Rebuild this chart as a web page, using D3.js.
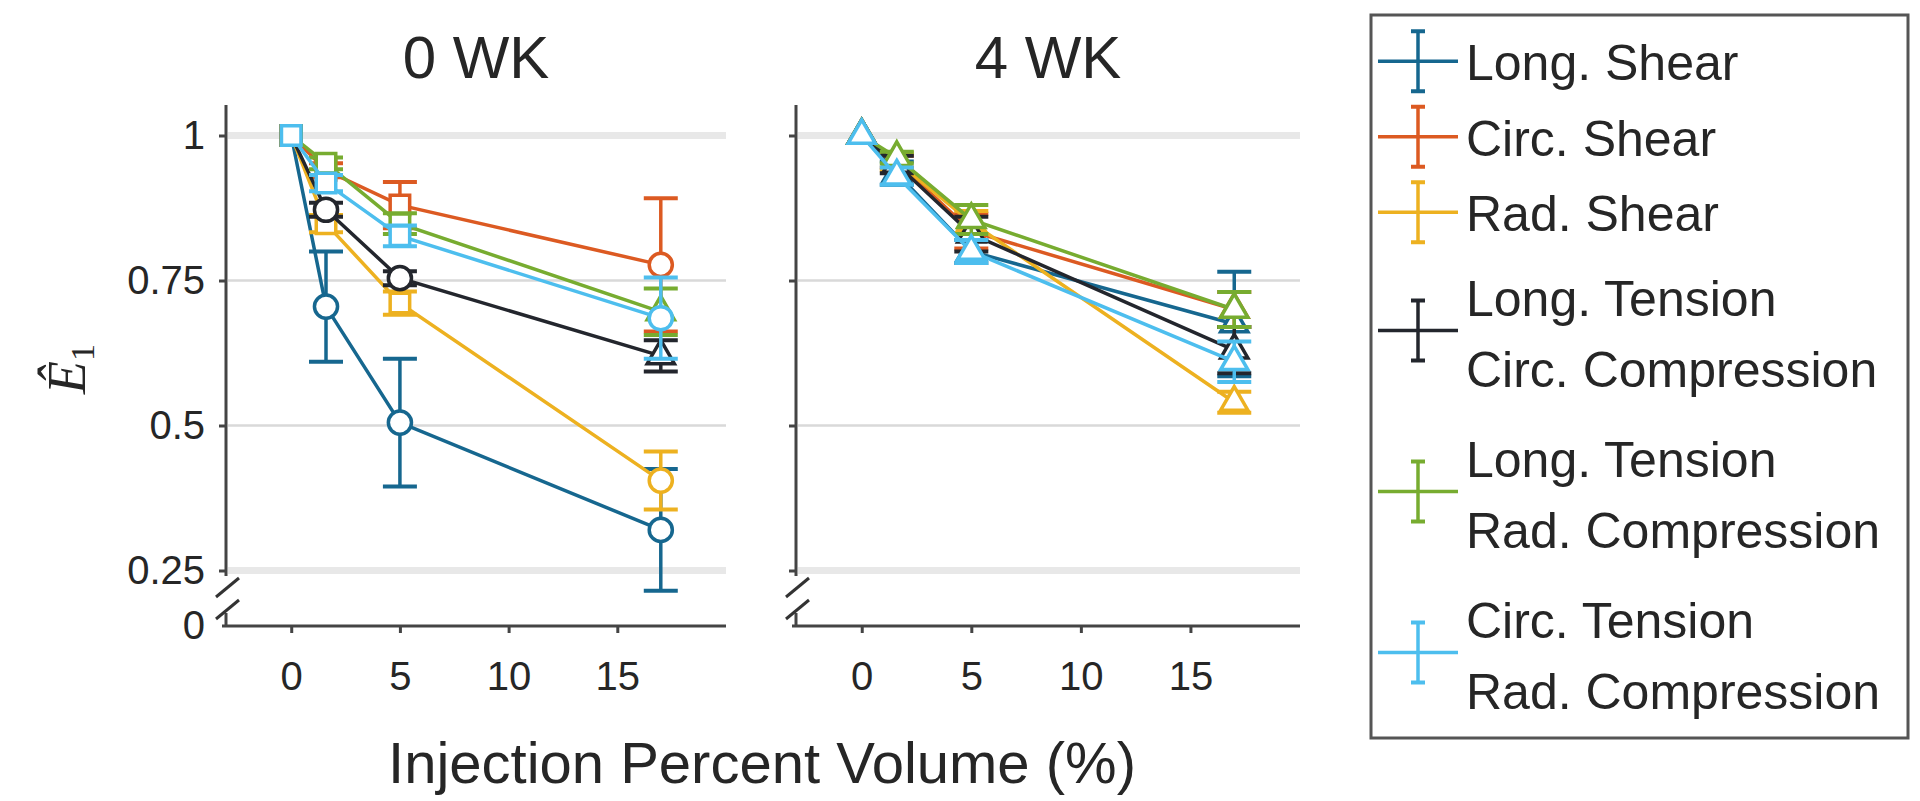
<!DOCTYPE html>
<html><head><meta charset="utf-8">
<script src="https://cdn.jsdelivr.net/npm/d3@7"></script>
<style>
body{margin:0;background:#fff;}
text{font-family:"Liberation Sans",Arial,Helvetica,sans-serif;fill:#262626;}
</style>
</head><body>
<svg id="chart" width="1920" height="801"></svg>
<script>
// ---------------- data ----------------
const xValues = [0, 1.6, 5, 17];
const xTicks = [0, 5, 10, 15];
const yTicks = [0.25, 0.5, 0.75, 1];
const yTickLabels = ["0.25", "0.5", "0.75", "1"];
const yBreakLabel = "0";
const panelTitles = ["0 WK", "4 WK"];
const xAxisTitle = "Injection Percent Volume (%)";
const seriesNames = [
  ["Long. Shear"],
  ["Circ. Shear"],
  ["Rad. Shear"],
  ["Long. Tension", "Circ. Compression"],
  ["Long. Tension", "Rad. Compression"],
  ["Circ. Tension", "Rad. Compression"]
];
const seriesColors = ["#16678f", "#dc5a22", "#edb120", "#23262d", "#77ac30", "#4dbeee"];

// 0 WK
const wk0Means = [
  [1, 0.705, 0.505, 0.320],
  [1, 0.940, 0.880, 0.777],
  [1, 0.848, 0.711, 0.405],
  [1, 0.872, 0.754, 0.620],
  [1, 0.952, 0.848, 0.696],
  [1, 0.918, 0.827, 0.685]
];
const wk0Errors = [
  [0, 0.095, 0.110, 0.105],
  [0, 0.012, 0.040, 0.115],
  [0, 0.015, 0.020, 0.050],
  [0, 0.012, 0.012, 0.027],
  [0, 0.010, 0.018, 0.040],
  [0, 0.014, 0.018, 0.070]
];
const wk0Markers = [
  ["square", "circle", "circle", "circle"],
  ["square", "square", "square", "circle"],
  ["square", "square", "square", "circle"],
  ["square", "circle", "circle", "triangle"],
  ["square", "square", "square", "triangle"],
  ["square", "square", "square", "circle"]
];

// 4 WK
const wk4Means = [
  [1, 0.935, 0.800, 0.675],
  [1, 0.955, 0.835, 0.700],
  [1, 0.955, 0.850, 0.540],
  [1, 0.950, 0.830, 0.630],
  [1, 0.962, 0.855, 0.700],
  [1, 0.930, 0.800, 0.610]
];
const wk4Errors = [
  [0, 0.020, 0.020, 0.090],
  [0, 0.010, 0.030, 0.030],
  [0, 0.015, 0.020, 0.018],
  [0, 0.015, 0.030, 0.040],
  [0, 0.010, 0.025, 0.030],
  [0, 0.015, 0.020, 0.035]
];
const wk4Markers = [
  ["triangle", "triangle", "triangle", "triangle"],
  ["triangle", "triangle", "triangle", "triangle"],
  ["triangle", "triangle", "triangle", "triangle"],
  ["triangle", "triangle", "triangle", "triangle"],
  ["triangle", "triangle", "triangle", "triangle"],
  ["triangle", "triangle", "triangle", "triangle"]
];

// ---------------- layout ----------------
const svg = d3.select("#chart");
const axisColor = "#444";
const yTop = 105, yBreakTop = 576, xAxisY = 626;
const y = d3.scaleLinear().domain([0.25, 1]).range([570.5, 135.5]);

const panels = [
  {x0: 226, x1: 726, title: panelTitles[0], means: wk0Means, errs: wk0Errors, markers: wk0Markers, labels: true},
  {x0: 796, x1: 1300, title: panelTitles[1], means: wk4Means, errs: wk4Errors, markers: wk4Markers, labels: false}
];

const symbolMap = {square: d3.symbolSquare, circle: d3.symbolCircle, triangle: d3.symbolTriangle};
const symbolSize = {square: 380, circle: 420, triangle: 320};

panels.forEach(p => {
  const x = d3.scaleLinear().domain([-3, 20]).range([p.x0, p.x1]);
  const g = svg.append("g");

  // gridlines
  g.selectAll(".grid").data(yTicks).join("line")
    .attr("x1", p.x0 + 2).attr("x2", p.x1)
    .attr("y1", d => y(d)).attr("y2", d => y(d))
    .attr("stroke", (d, i) => (i === 0 || i === yTicks.length - 1) ? "#e8e8e8" : "#d9d9d9")
    .attr("stroke-width", (d, i) => (i === 0 || i === yTicks.length - 1) ? 7 : 2.5);

  // title
  g.append("text").attr("x", (p.x0 + p.x1) / 2).attr("y", 78)
    .attr("text-anchor", "middle").style("font-size", "60px").text(p.title);

  // x axis
  const xAxis = d3.axisBottom(x).tickValues(xTicks).tickFormat(d3.format("d")).tickSize(7).tickPadding(29);
  const gx = g.append("g").attr("transform", `translate(0,${xAxisY})`).call(xAxis);
  gx.select(".domain").remove();
  gx.selectAll(".tick line").attr("stroke", axisColor).attr("stroke-width", 3);
  gx.selectAll(".tick text").style("font-size", "40px").style("font-family", "'Liberation Sans',Arial,sans-serif").attr("fill", "#262626");
  g.append("line").attr("x1", p.x0 - 4).attr("x2", p.x1).attr("y1", xAxisY).attr("y2", xAxisY)
    .attr("stroke", axisColor).attr("stroke-width", 3);

  // y axis (broken)
  const yAxis = d3.axisLeft(y).tickValues(yTicks).tickFormat((d, i) => p.labels ? yTickLabels[i] : "").tickSize(7).tickPadding(14);
  const gy = g.append("g").attr("transform", `translate(${p.x0},0)`).call(yAxis);
  gy.select(".domain").remove();
  gy.selectAll(".tick line").attr("stroke", axisColor).attr("stroke-width", 3);
  gy.selectAll(".tick text").style("font-size", "40px").style("font-family", "'Liberation Sans',Arial,sans-serif").attr("fill", "#262626");
  g.append("line").attr("x1", p.x0).attr("x2", p.x0).attr("y1", yTop).attr("y2", yBreakTop)
    .attr("stroke", axisColor).attr("stroke-width", 3);
  g.append("line").attr("x1", p.x0).attr("x2", p.x0).attr("y1", 613).attr("y2", xAxisY)
    .attr("stroke", axisColor).attr("stroke-width", 3);
  // break marks
  [[597, 578], [619, 600]].forEach(([ya, yb]) => {
    g.append("line").attr("x1", p.x0 - 10).attr("y1", ya).attr("x2", p.x0 + 13).attr("y2", yb)
      .attr("stroke", "#333").attr("stroke-width", 3);
  });
  if (p.labels) {
    g.append("text").attr("x", p.x0 - 21).attr("y", xAxisY).attr("dy", "0.32em")
      .attr("text-anchor", "end").style("font-size", "40px").text(yBreakLabel);
  }

  // series
  const line = d3.line().x((d, i) => x(xValues[i])).y(d => y(d));
  p.means.forEach((means, s) => {
    const col = seriesColors[s];
    const sg = g.append("g");
    sg.append("path").attr("d", line(means)).attr("fill", "none")
      .attr("stroke", col).attr("stroke-width", 3.5);
    means.forEach((m, i) => {
      const e = p.errs[s][i];
      if (e <= 0) return;
      const cx = x(xValues[i]);
      sg.append("line").attr("x1", cx).attr("x2", cx).attr("y1", y(m - e)).attr("y2", y(m + e))
        .attr("stroke", col).attr("stroke-width", 3.5);
      [m - e, m + e].forEach(v => {
        sg.append("line").attr("x1", cx - 17).attr("x2", cx + 17).attr("y1", y(v)).attr("y2", y(v))
          .attr("stroke", col).attr("stroke-width", 4);
      });
    });
    means.forEach((m, i) => {
      const k = p.markers[s][i];
      sg.append("path")
        .attr("d", d3.symbol().type(symbolMap[k]).size(symbolSize[k])())
        .attr("transform", `translate(${x(xValues[i])},${y(m)})`)
        .attr("fill", "#fff").attr("stroke", col).attr("stroke-width", 3.5);
    });
  });
});

// y label
const yl = svg.append("text").attr("transform", "translate(85,369) rotate(-90)")
  .attr("text-anchor", "middle")
  .style("font-family", "'Liberation Serif','DejaVu Serif',serif").style("font-size", "54px").style("font-style", "italic");
yl.append("tspan").text("Ê");
yl.append("tspan").attr("dy", 9).style("font-size", "34px").style("font-style", "normal").text("1");

// x label
svg.append("text").attr("x", 762).attr("y", 783).attr("text-anchor", "middle")
  .style("font-size", "58px").text(xAxisTitle);

// legend
const lg = svg.append("g");
lg.append("rect").attr("x", 1371).attr("y", 15).attr("width", 537).attr("height", 723)
  .attr("fill", "#fff").attr("stroke", "#555").attr("stroke-width", 3);
let legendTop = 23.5;
seriesNames.forEach((lines, s) => {
  const h = lines.length === 1 ? 75.5 : 161;
  const cy = legendTop + h / 2;
  legendTop += h;
  const col = seriesColors[s];
  lg.append("line").attr("x1", 1378).attr("x2", 1458).attr("y1", cy).attr("y2", cy)
    .attr("stroke", col).attr("stroke-width", 3.5);
  lg.append("line").attr("x1", 1418).attr("x2", 1418).attr("y1", cy - 30).attr("y2", cy + 30)
    .attr("stroke", col).attr("stroke-width", 3.5);
  [cy - 30, cy + 30].forEach(v => lg.append("line").attr("x1", 1411).attr("x2", 1425)
    .attr("y1", v).attr("y2", v).attr("stroke", col).attr("stroke-width", 4));
  lines.forEach((t, j) => {
    const base = lines.length === 1 ? cy + 19 : cy + (j === 0 ? -15 : 56);
    lg.append("text").attr("x", 1466).attr("y", base).style("font-size", "50px").text(t);
  });
});
</script>
</body></html>
